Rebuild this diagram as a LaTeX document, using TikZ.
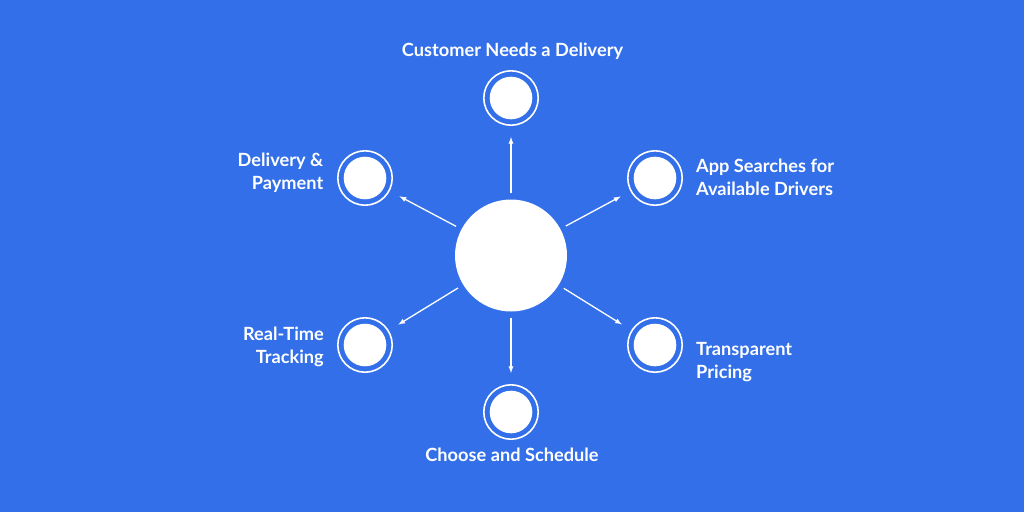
\documentclass[tikz,border=0pt]{standalone}
\usepackage{fontspec}
\setmainfont{Lato}
\definecolor{bgblue}{RGB}{50,111,233}
\tikzset{
  hub/.style={circle, fill=white, minimum size=112pt, inner sep=0pt},
  stop/.style={circle, draw=white, line width=1.6pt, minimum size=54.4pt, inner sep=0pt,
    path picture={\fill[white] (path picture bounding box.center) circle (21.3pt);}},
  lbl/.style={text=white, inner sep=0pt, font=\fontsize{18.2}{22.6}\selectfont\bfseries},
  arr/.style={->, white, line width=1.3pt, shorten <=6pt, shorten >=11pt}
}
\begin{document}
\begin{tikzpicture}[>=latex, x=1pt, y=-1pt]
\fill[bgblue] (0,0) rectangle (1024,512);
\useasboundingbox (0,0) rectangle (1024,512);
% centre and the six stops
\node[hub] (hub) at (511,255.5) {};
\node[stop] (need) at (511,98) {};
\node[stop] (search) at (655,178) {};
\node[stop] (price) at (655,345) {};
\node[stop] (plan) at (511,412) {};
\node[stop] (track) at (365,345) {};
\node[stop] (pay) at (365,178) {};
% arrows
\foreach \s in {need,search,price,plan,track,pay}
  \draw[arr] (hub) -- (\s);
% labels
\node[lbl, anchor=base] (needtxt) at (512.5,56) {Customer Needs a Delivery};
\node[lbl, anchor=base west, align=left] (searchtxt) at (696,195.5) {App Searches for\\Available Drivers};
\node[lbl, anchor=base west, align=left] (pricetxt) at (696,378) {Transparent\\Pricing};
\node[lbl, anchor=base] (plantxt) at (512,461.7) {Choose and Schedule};
\node[lbl, anchor=base east, align=right] (tracktxt) at (324,363.3) {Real-Time\\Tracking};
\node[lbl, anchor=base east, align=right] (paytxt) at (323.5,189.3) {Delivery \&\\Payment};
\end{tikzpicture}
\end{document}
